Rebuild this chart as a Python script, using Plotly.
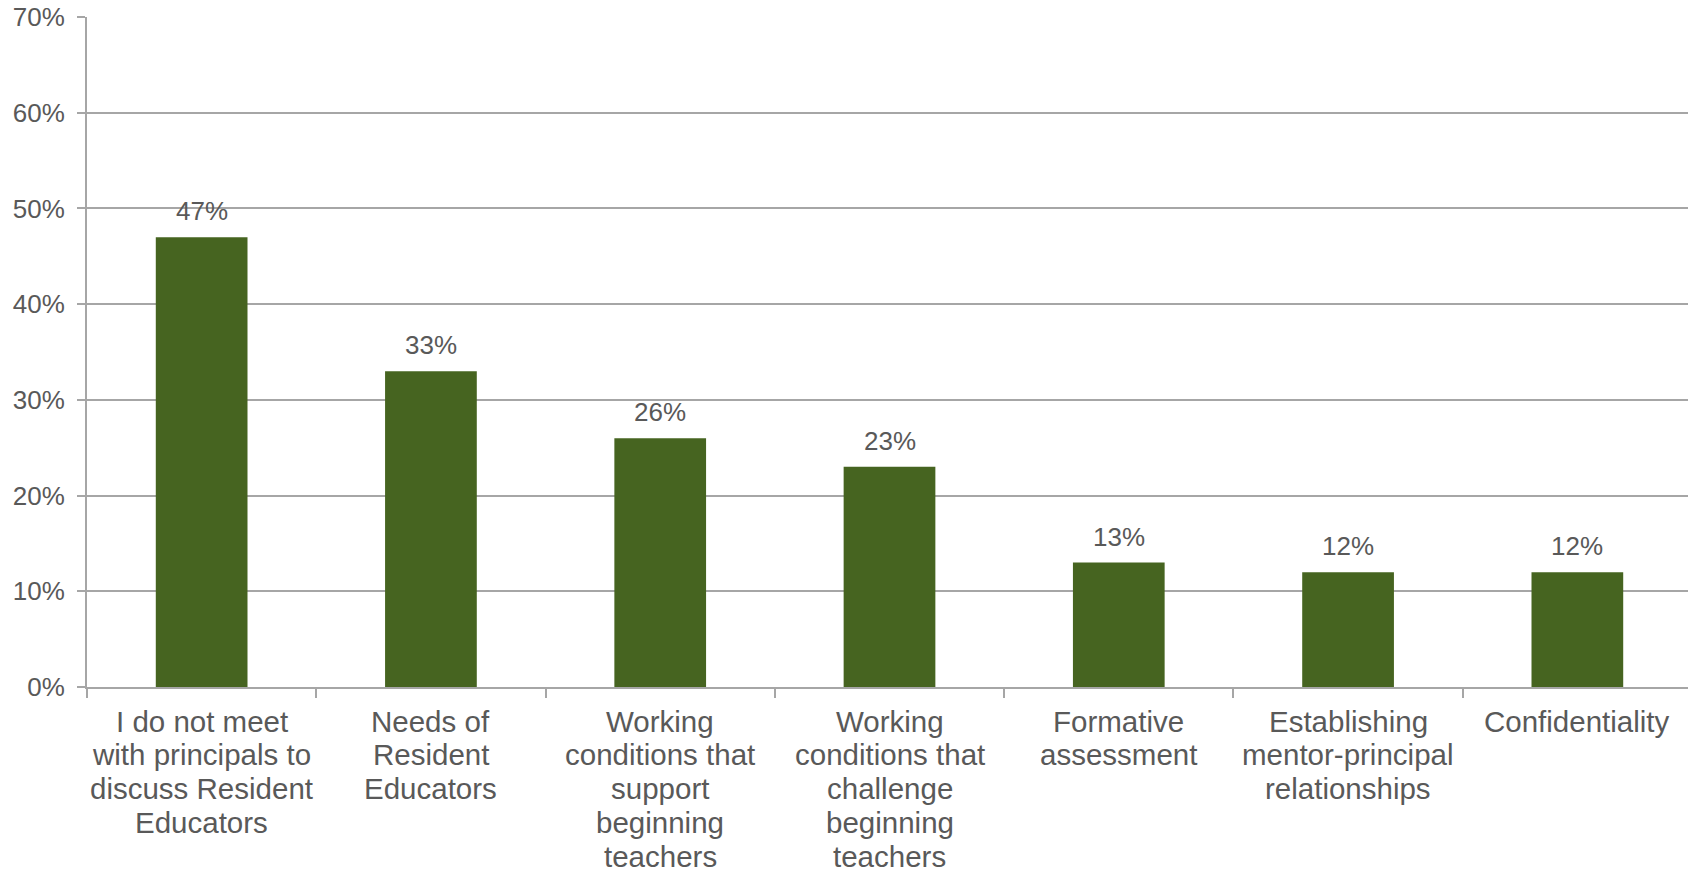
import plotly.graph_objects as go

categories = [
    "I do not meet with principals to discuss Resident Educators",
    "Needs of Resident Educators",
    "Working conditions that support beginning teachers",
    "Working conditions that challenge beginning teachers",
    "Formative assessment",
    "Establishing mentor-principal relationships",
    "Confidentiality",
]
category_lines = [
    ["I do not meet", "with principals to", "discuss Resident", "Educators"],
    ["Needs of", "Resident", "Educators"],
    ["Working", "conditions that", "support", "beginning", "teachers"],
    ["Working", "conditions that", "challenge", "beginning", "teachers"],
    ["Formative", "assessment"],
    ["Establishing", "mentor-principal", "relationships"],
    ["Confidentiality"],
]
values = [0.47, 0.33, 0.26, 0.23, 0.13, 0.12, 0.12]
value_labels = ["47%", "33%", "26%", "23%", "13%", "12%", "12%"]

bar_color = '#466420'
text_color = '#595959'
grid_color = '#a6a6a6'
font_family = 'Arial, Liberation Sans, sans-serif'

bars = go.Bar(
    x=categories,
    y=values,
    marker=dict(color=bar_color, line=dict(width=0)),
    showlegend=False)

annotations = []
for cat, val, lab in zip(categories, values, value_labels):
    annotations.append(dict(
        x=cat, y=val, text=lab, showarrow=False,
        yanchor='bottom', yshift=9,
        font=dict(size=26, color=text_color, family=font_family)))

# category labels line by line, to get the tighter line spacing of the original
for cat, lines in zip(categories, category_lines):
    for i, line in enumerate(lines):
        annotations.append(dict(
            x=cat, xref='x', y=0, yref='paper', text=line, showarrow=False,
            yanchor='middle', yshift=-(34 + i * 33.8),
            font=dict(size=29.5, color=text_color, family=font_family)))

# page body keeps an 8px margin, so the figure is sized to fit inside it
layout = go.Layout(
    width=1688, height=861,
    margin=dict(l=79, r=4, t=9, b=182),
    paper_bgcolor='white',
    plot_bgcolor='white',
    bargap=0.6,
    font=dict(size=26, color=text_color, family=font_family),
    xaxis=dict(
        automargin=False,
        showgrid=False,
        showline=True, linecolor=grid_color, linewidth=2,
        ticks='outside', tickson='boundaries', ticklen=9,
        tickcolor=grid_color, tickwidth=2,
        showticklabels=False),
    yaxis=dict(
        automargin=False,
        range=[0, 0.7],
        dtick=0.1,
        tickformat='.0%',
        showgrid=True, gridcolor=grid_color, gridwidth=2,
        showline=True, linecolor=grid_color, linewidth=2,
        ticks='outside', ticklen=8, tickcolor=grid_color, tickwidth=2,
        ticklabelstandoff=7,
        ticklabeloverflow='allow',
        zeroline=False),
    annotations=annotations,
)

fig = go.Figure(data=[bars], layout=layout)
fig.write_html("out.html")
